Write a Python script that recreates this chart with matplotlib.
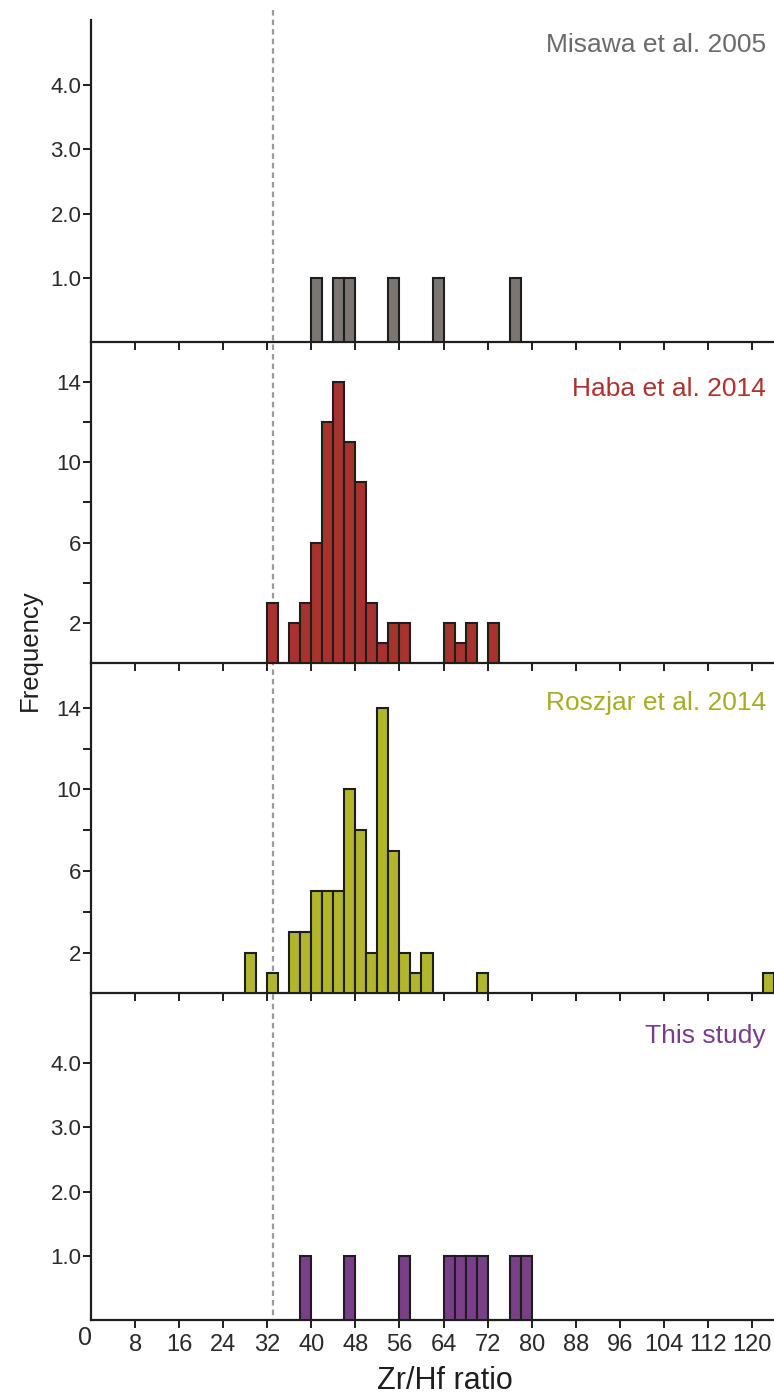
import matplotlib
matplotlib.use("Agg")
import matplotlib.pyplot as plt
from matplotlib.ticker import FixedLocator
from matplotlib.lines import Line2D

plt.rcParams['font.family'] = ['Liberation Sans', 'DejaVu Sans']

# Zr/Hf histogram data: left edges of 2-unit bins and counts per bin
misawa_bins = [40, 44, 46, 54, 62, 76]
misawa_counts = [1, 1, 1, 1, 1, 1]

haba_bins = [32, 36, 38, 40, 42, 44, 46, 48, 50, 52, 54, 56, 64, 66, 68, 72]
haba_counts = [3, 2, 3, 6, 12, 14, 11, 9, 3, 1, 2, 2, 2, 1, 2, 2]

roszjar_bins = [28, 32, 36, 38, 40, 42, 44, 46, 48, 50, 52, 54, 56, 58, 60, 70, 122]
roszjar_counts = [2, 1, 3, 3, 5, 5, 5, 10, 8, 2, 14, 7, 2, 1, 2, 1, 1]

study_bins = [38, 46, 56, 64, 66, 68, 70, 76, 78]
study_counts = [1, 1, 1, 1, 1, 1, 1, 1, 1]

bin_width = 2
x_ticks = [8, 16, 24, 32, 40, 48, 56, 64, 72, 80, 88, 96, 104, 112, 120]
chondrite_ratio = 33

W, H = 774, 1394
fig = plt.figure(figsize=(W / 100, H / 100), dpi=100)

left = 91 / W
width = 1 - left
ink = '#1e1e1e'

panels = [
    # (top px, bottom px, bins, counts, ylim, face, label, label colour, label y)
    (20, 341.7, misawa_bins, misawa_counts, 5.02, '#7b7671',
     'Misawa et al. 2005', '#6a6a6a', 0.922),
    (341.7, 663, haba_bins, haba_counts, 16.0, '#a8322d',
     'Haba et al. 2014', '#b0322c', 0.853),
    (663, 993.3, roszjar_bins, roszjar_counts, 16.2, '#b1b62c',
     'Roszjar et al. 2014', '#a6ad25', 0.879),
    (993.3, 1320, study_bins, study_counts, 5.09, '#793f87',
     'This study', '#7a3d8c', 0.869),
]

axes = []
for i, (top, bot, bins, counts, ymax, face, label, lcol, ly) in enumerate(panels):
    ax = fig.add_axes([left, 1 - bot / H, width, (bot - top) / H])
    ax.bar(bins, counts, width=bin_width, align='edge', color=face,
           edgecolor=ink, linewidth=1.5, zorder=3)
    ax.set_xlim(0, 124)
    ax.set_ylim(0, ymax)
    for s in ('top', 'right'):
        ax.spines[s].set_visible(False)
    for s in ('left', 'bottom'):
        ax.spines[s].set_linewidth(1.6)
        ax.spines[s].set_color(ink)
    ax.xaxis.set_major_locator(FixedLocator(x_ticks))
    ax.tick_params(axis='both', which='both', direction='out', length=5.5,
                   width=1.4, color=ink, labelsize=16, labelcolor='#2a2a2a',
                   pad=1.5)
    if ymax < 10:
        ax.yaxis.set_major_locator(FixedLocator([1, 2, 3, 4]))
        ax.set_yticklabels(['1.0', '2.0', '3.0', '4.0'])
    else:
        ax.yaxis.set_major_locator(FixedLocator([2, 6, 10, 14]))
        ax.yaxis.set_minor_locator(FixedLocator([4, 8, 12]))
    if i < 3:
        ax.set_xticklabels([])
    else:
        ax.set_xticklabels([str(t) for t in x_ticks], fontsize=17,
                           color='#2a2a2a')
        ax.tick_params(axis='x', pad=4.5)
    ax.text(0.988, ly, label, transform=ax.transAxes, ha='right',
            va='center', fontsize=19, color=lcol)
    ax.patch.set_alpha(0)
    axes.append(ax)

# origin label
fig.text(85 / W, 1 - 1338 / H, '0', fontsize=18, color='#2a2a2a',
         ha='center', va='center')

# chondritic Zr/Hf reference line spanning all panels
x_fig = axes[0].transData.transform((chondrite_ratio, 0))[0] / W
fig.add_artist(Line2D([x_fig, x_fig], [1 - 10 / H, 1 - 1320 / H],
                      transform=fig.transFigure, color='#9a9a9a',
                      linewidth=1.6, linestyle=(0, (2.5, 1.8)), zorder=0))

fig.text(30 / W, 1 - 650 / H, 'Frequency', rotation=90, ha='center',
         va='center', fontsize=18.5, color='#1e1e1e')
fig.text(445 / W, 1 - 1381 / H, 'Zr/Hf ratio', ha='center', va='center',
         fontsize=22, color='#1e1e1e')

fig.savefig('out.png', dpi=100)
